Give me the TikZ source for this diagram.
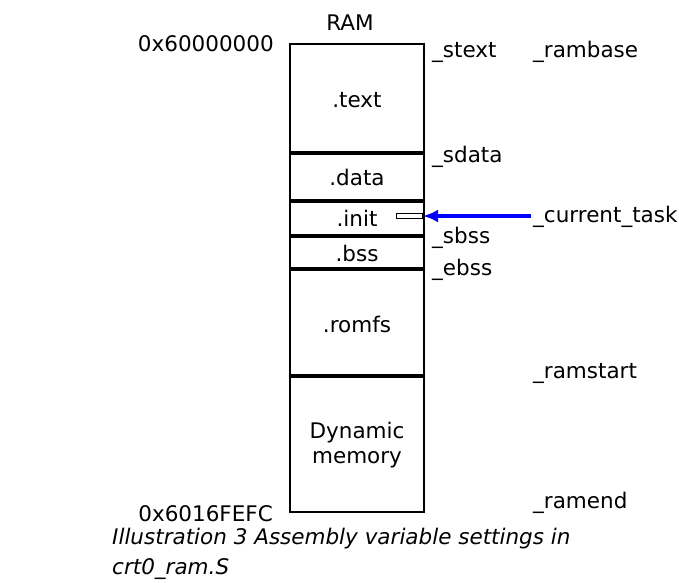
\documentclass[tikz,border=0pt]{standalone}
\usepackage{fontspec}
\setmainfont{DejaVu Sans}
\usetikzlibrary{arrows.meta}
\begin{document}
\begin{tikzpicture}[x=1pt,y=-1pt,
  lbl/.style={font=\fontsize{21.5}{25}\selectfont, inner sep=0pt},
  sym/.style={lbl, anchor=base west},
  addr/.style={lbl, anchor=base east},
  region/.style={lbl, anchor=base},
  divider/.style={line width=3.4pt},
  frame/.style={line width=2.8pt},
  ptr/.style={draw=blue, line width=3.2pt, -{Latex[length=15pt,width=13pt]}},
  caption/.style={anchor=base west, inner sep=0pt,
    font=\fontsize{21.5}{30}\selectfont\itshape}
]
\useasboundingbox (0,0) rectangle (679,582);

% memory column
\draw[frame] (290,44) rectangle (424,512);
\foreach \y in {153,201,236,269,376}
  \draw[divider] (290,\y) -- (424,\y);

% section names
\node[region] (text)  at (357,107) {.text};
\node[region] (data)  at (357,185) {.data};
\node[region] (init)  at (357,226) {.init};
\node[region] (bss)   at (357,261) {.bss};
\node[region] (romfs) at (357,332) {.romfs};
\node[region] (dyn1)  at (357,438) {Dynamic};
\node[region] (dyn2)  at (357,463) {memory};

\node[region] (ram) at (350,30) {RAM};
\node[addr] (top) at (274,51) {0x60000000};
\node[addr] (bot) at (273,521) {0x6016FEFC};

% linker symbols
\node[sym] (stext)   at (432,57)  {\_stext};
\node[sym] (rambase) at (533,57)  {\_rambase};
\node[sym] (sdata)   at (432,162) {\_sdata};
\node[sym] (ctask)   at (533,222) {\_current\_task};
\node[sym] (sbss)    at (432,243) {\_sbss};
\node[sym] (ebss)    at (432,275) {\_ebss};
\node[sym] (rstart)  at (533,378) {\_ramstart};
\node[sym] (rend)    at (533,508) {\_ramend};

% task pointer slot
\node[draw, line width=1.3pt, minimum width=26pt, minimum height=5pt,
      inner sep=0pt, anchor=east] (slot) at (423,216) {};
\coordinate (ptrstart) at (531,216);
\draw[ptr] (ptrstart) -- (slot.east);

% caption
\node[caption] (cap1) at (112,544) {Illustration 3 Assembly variable settings in};
\node[caption] (cap2) at (112,574) {crt0\_ram.S};
\end{tikzpicture}
\end{document}
